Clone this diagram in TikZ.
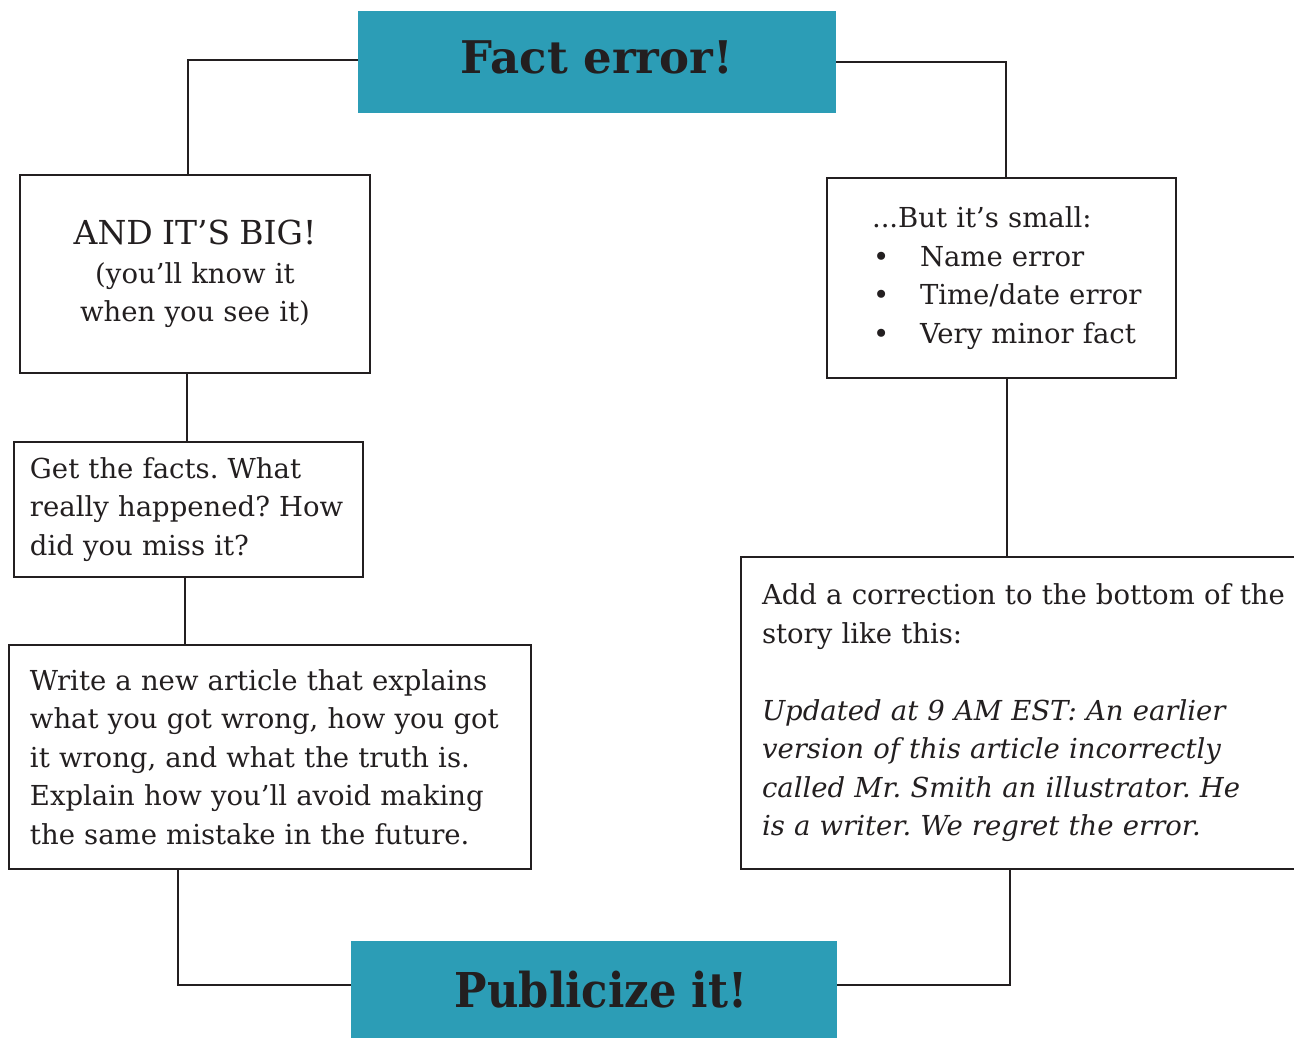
\documentclass[tikz,border=0pt]{standalone}
\usepackage{fontspec}
\setmainfont{DejaVu Serif}
\usetikzlibrary{calc}
\definecolor{titlefill}{HTML}{2C9DB6}
\definecolor{ink}{HTML}{231F20}
\newcommand\bodyfont{\fontsize{27.5}{38.5}\selectfont\frenchspacing}
\newcommand\padl[1]{\leftskip=#1pt\relax}
\begin{document}
\begin{tikzpicture}[x=1pt,y=-1pt,
  box/.style={draw=ink, line width=2.8pt, fill=white, text=ink, font=\bodyfont, align=left, inner xsep=0pt, inner ysep=0pt},
  titlebox/.style={fill=titlefill, text=ink, inner sep=0pt, font=\fontsize{45}{50}\selectfont\bfseries},
  conn/.style={draw=ink, line width=2.8pt}]
\useasboundingbox (0,0) rectangle (1294,1039);

\node[titlebox, minimum width=478, minimum height=102, text height=33, text depth=11] (fact) at (597,62) {Fact error!};

\node[box, minimum width=350, minimum height=198, text width=350, align=center] (big) at (195,274)
  {{\fontsize{33}{38.5}\selectfont AND IT’S BIG!}\\(you’ll know it\\when you see it)};

\node[box, minimum width=349, minimum height=200, text width=349] (small) at (1001.5,278)
  {\padl{45}...But it’s small:\\\makebox[48pt][l]{\hspace{1pt}•}Name error\\\makebox[48pt][l]{\hspace{1pt}•}Time/date error\\\makebox[48pt][l]{\hspace{1pt}•}Very minor fact\par};

\node[box, minimum width=349, minimum height=135, text width=349] (facts) at (188.5,509.5)
  {\padl{16}Get the facts. What\\really happened? How\\did you miss it?\par};

\node[box, minimum width=522, minimum height=224, text width=522] (write) at (270,757)
  {\padl{21}Write a new article that explains\\what you got wrong, how you got\\it wrong, and what the truth is.\\Explain how you’ll avoid making\\the same mistake in the future.\par};

\node[box, minimum width=559, minimum height=312, text width=559] (add) at (1020.5,713)
  {\padl{21}Add a correction to the bottom of the\\story like this:\\[38.5pt]\itshape Updated at 9 AM EST: An earlier\\version of this article incorrectly\\called Mr. Smith an illustrator. He\\is a writer. We regret the error.\par};

\node[titlebox, minimum width=486, minimum height=97, text height=35, text depth=0, font=\fontsize{48}{52}\selectfont\bfseries] (pub) at (594,989.5)
  {\hspace*{14pt}\scalebox{0.9}[1]{Publicize it!}};

\draw[conn] ([yshift=2]fact.west) -| ([xshift=-7]big.north);
\draw[conn] (fact.east) -| ([xshift=4.5]small.north);
\draw[conn] ([xshift=-1.5]facts.north) -- ([xshift=-1.5]facts.north |- big.south);
\draw[conn] ([xshift=-3.5]facts.south) -- ([xshift=-3.5]facts.south |- write.north);
\draw[conn] ([xshift=-92]write.south) |- ([yshift=4.5]pub.west);
\draw[conn] ([xshift=5.5]small.south) -- ([xshift=5.5]small.south |- add.north);
\draw[conn] ([xshift=-10.5]add.south) |- ([yshift=4.5]pub.east);
\end{tikzpicture}
\end{document}
